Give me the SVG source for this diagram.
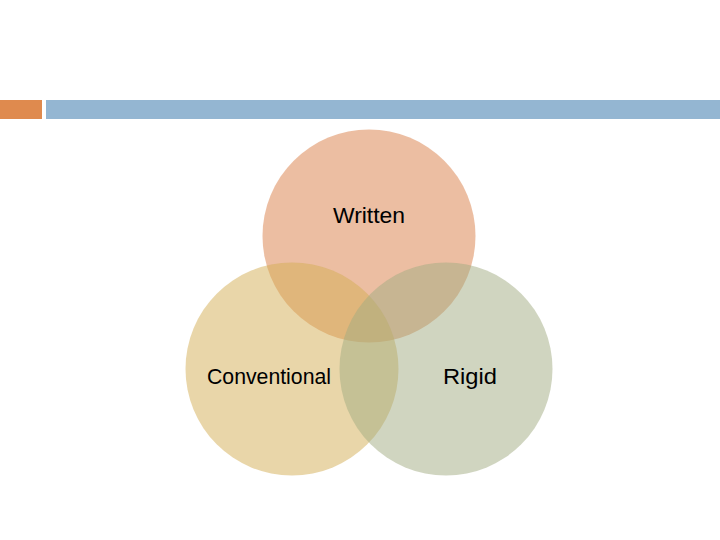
<svg xmlns="http://www.w3.org/2000/svg" width="720" height="540" viewBox="0 0 720 540">
<style>
.c{opacity:0.5}
.t{font-family:"Liberation Sans",Arial,sans-serif;font-size:22px;fill:#000;text-anchor:middle}
</style>
<rect width="720" height="540" fill="#fff"/>
<rect x="0" y="100" width="42" height="19" fill="#DF8A4E"/>
<rect x="46" y="100" width="674" height="19" fill="#94B6D2"/>
<g id="written"><circle class="c" cx="369" cy="236" r="106.5" fill="#D97D45"/></g>
<g id="conventional"><circle class="c" cx="292" cy="369" r="106.5" fill="#D3AD53"/></g>
<g id="rigid"><circle class="c" cx="446" cy="369" r="106.5" fill="#A1AB81"/></g>
<g id="labels">
<text class="t" x="369" y="223" textLength="72" lengthAdjust="spacingAndGlyphs">Written</text>
<text class="t" x="269" y="384" textLength="124" lengthAdjust="spacingAndGlyphs">Conventional</text>
<text class="t" x="470" y="384" textLength="54" lengthAdjust="spacingAndGlyphs">Rigid</text>
</g>
</svg>
